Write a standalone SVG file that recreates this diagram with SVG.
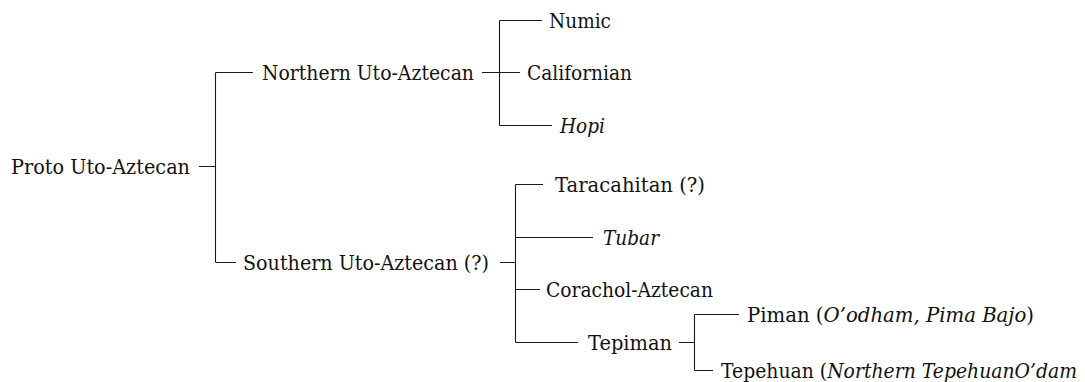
<svg xmlns="http://www.w3.org/2000/svg" width="1085" height="382" viewBox="0 0 1085 382">
<style>
  text { font-family: "DejaVu Serif", serif; font-size: 20px; fill: #111; }
  .i { font-style: italic; }
  .c { fill: none; stroke: #1a1a1a; stroke-width: 1.1; }
</style>
<rect width="1085" height="382" fill="#fff"/>
<g id="connectors" class="c">
  <path d="M199 166.5H215.5M215.5 72.5V262.5M215.5 72.5H253M215.5 262.5H236"/>
  <path d="M482 72.5H499.5M499.5 20.5V125.5M499.5 20.5H542M499.5 72.5H520M499.5 125.5H552"/>
  <path d="M500 262.5H515.5M515.5 184.5V342.5M515.5 184.5H543M515.5 237.5H593M515.5 289.5H540M515.5 342.5H578"/>
  <path d="M679 342.5H694.5M694.5 314.5V370.5M694.5 314.5H739M694.5 370.5H713"/>
</g>
<g id="n-proto"><text x="11" y="173.5" textLength="179" lengthAdjust="spacingAndGlyphs">Proto Uto-Aztecan</text></g>
<g id="n-northern"><text x="262" y="79.5" textLength="212" lengthAdjust="spacingAndGlyphs">Northern Uto-Aztecan</text></g>
<g id="n-numic"><text x="549" y="27.5" textLength="62" lengthAdjust="spacingAndGlyphs">Numic</text></g>
<g id="n-californian"><text x="527" y="79.5" textLength="105" lengthAdjust="spacingAndGlyphs">Californian</text></g>
<g id="n-hopi"><text class="i" x="560" y="132.5" textLength="45" lengthAdjust="spacingAndGlyphs">Hopi</text></g>
<g id="n-southern"><text x="243" y="269.5" textLength="246" lengthAdjust="spacingAndGlyphs">Southern Uto-Aztecan (?)</text></g>
<g id="n-taracahitan"><text x="555" y="191.5" textLength="150" lengthAdjust="spacingAndGlyphs">Taracahitan (?)</text></g>
<g id="n-tubar"><text class="i" x="603" y="244.5" textLength="56" lengthAdjust="spacingAndGlyphs">Tubar</text></g>
<g id="n-corachol"><text x="546" y="296.5" textLength="167" lengthAdjust="spacingAndGlyphs">Corachol-Aztecan</text></g>
<g id="n-tepiman"><text x="588" y="349.5" textLength="84" lengthAdjust="spacingAndGlyphs">Tepiman</text></g>
<g id="n-piman"><text x="747" y="321.5" textLength="287" lengthAdjust="spacingAndGlyphs">Piman (<tspan class="i">O’odham, Pima Bajo</tspan>)</text></g>
<g id="n-tepehuan"><text x="721" y="377.5" textLength="356" lengthAdjust="spacingAndGlyphs">Tepehuan (<tspan class="i">Northern TepehuanO’dam</tspan></text></g>
</svg>
